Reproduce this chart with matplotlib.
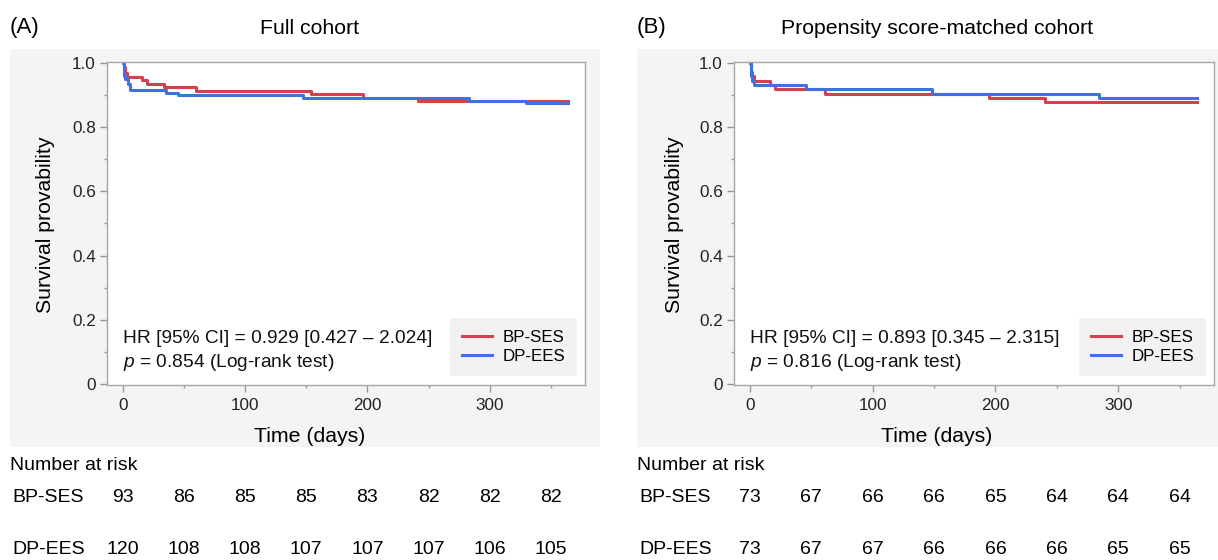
import matplotlib
matplotlib.use("Agg")
import matplotlib.pyplot as plt
from matplotlib.patches import Rectangle
from matplotlib.ticker import MultipleLocator
import matplotlib.transforms as mtransforms

plt.rcParams['font.family'] = ['Liberation Sans', 'DejaVu Sans']
plt.rcParams['mathtext.fontset'] = 'custom'
plt.rcParams['mathtext.rm'] = 'Liberation Sans'
plt.rcParams['mathtext.it'] = 'Liberation Sans:italic'

# ---- data ----
groups = ['BP-SES', 'DP-EES']
colors = ['#d6404e', '#3f72e0']

# Full cohort, step curves (time in days, survival probability)
full_bp_time = [0, 1, 2, 3, 16, 20, 34, 60, 154, 196, 241, 364]
full_bp_surv = [1.0, 0.989, 0.968, 0.957, 0.946, 0.935, 0.925, 0.914, 0.903, 0.892, 0.882, 0.882]
full_dp_time = [0, 0.5, 1, 2, 4, 6, 35, 45, 147, 283, 330, 364]
full_dp_surv = [1.0, 0.975, 0.958, 0.950, 0.933, 0.917, 0.908, 0.900, 0.892, 0.883, 0.875, 0.875]

# Propensity score-matched cohort
psm_bp_time = [0, 1, 2, 3, 16, 20, 61, 195, 240, 364]
psm_bp_surv = [1.0, 0.973, 0.959, 0.945, 0.932, 0.918, 0.904, 0.890, 0.877, 0.877]
psm_dp_time = [0, 0.5, 1, 2, 3, 46, 148, 284, 364]
psm_dp_surv = [1.0, 0.973, 0.959, 0.945, 0.932, 0.918, 0.904, 0.890, 0.890]

# number at risk
risk_times = [0, 50, 100, 150, 200, 250, 300, 350]
full_bp_risk = [93, 86, 85, 85, 83, 82, 82, 82]
full_dp_risk = [120, 108, 108, 107, 107, 107, 106, 105]
psm_bp_risk = [73, 67, 66, 66, 65, 64, 64, 64]
psm_dp_risk = [73, 67, 67, 66, 66, 66, 65, 65]

panel_letters = ['(A)', '(B)']
panel_titles = ['Full cohort', 'Propensity score-matched cohort']
hr_texts = ['HR [95% CI] = 0.929 [0.427 \u2013 2.024]', 'HR [95% CI] = 0.893 [0.345 \u2013 2.315]']
p_texts = [r'$\it{p}$ = 0.854 (Log-rank test)', r'$\it{p}$ = 0.816 (Log-rank test)']
ytick_vals = [0, 0.2, 0.4, 0.6, 0.8, 1.0]
ytick_labels = ['0', '0.2', '0.4', '0.6', '0.8', '1.0']
xtick_vals = [0, 100, 200, 300]

W, H = 1218, 560
fig = plt.figure(figsize=(W / 100, H / 100), dpi=100)

def fx(px):
    return px / W

def fy(py):
    return 1 - py / H

# pixel layout of the two panels
panel_left = [10, 637]
panel_right = [600, 1218]
axes_left = [107, 734]
axes_right = [585, 1214]
center_x = [310, 937]
ylabel_x = [46, 674]

curves = [
    [(full_bp_time, full_bp_surv), (full_dp_time, full_dp_surv)],
    [(psm_bp_time, psm_bp_surv), (psm_dp_time, psm_dp_surv)],
]
risks = [[full_bp_risk, full_dp_risk], [psm_bp_risk, psm_dp_risk]]

for i in range(2):
    # light gray panel background (behind the axes)
    bg = Rectangle((fx(panel_left[i]), fy(447)), fx(panel_right[i] - panel_left[i]), (447 - 49) / H,
                   transform=fig.transFigure, facecolor='#f4f4f4', edgecolor='none', zorder=-5)
    fig.add_artist(bg)

    ax = fig.add_axes([fx(axes_left[i]), fy(384.5), fx(axes_right[i] - axes_left[i]), (384.5 - 61.7) / H])
    ax.set_zorder(2)
    ax.set_facecolor('white')
    for (t, s), c, g in zip(curves[i], colors, groups):
        ax.step(t, s, where='post', color=c, lw=2.2, label=g)

    ax.set_xlim(-13, 378)
    ax.set_ylim(-0.002, 1.004)
    ax.set_xticks(xtick_vals)
    ax.xaxis.set_minor_locator(MultipleLocator(50))
    ax.set_yticks(ytick_vals)
    ax.set_yticklabels(ytick_labels)
    ax.yaxis.set_minor_locator(MultipleLocator(0.1))
    ax.tick_params(which='major', length=5, width=1, color='#999999', labelsize=12.3, labelcolor='#222222', pad=3)
    ax.tick_params(which='minor', length=2.5, width=1, color='#999999')
    ax.tick_params(axis='x', which='major', pad=5)
    for sp in ax.spines.values():
        sp.set_color('#a6a6a6')
        sp.set_linewidth(1)

    ax.text(0, 0.14, hr_texts[i], fontsize=13.8, va='center', ha='left', color='#111111')
    ax.text(0, 0.066, p_texts[i], fontsize=13.8, va='center', ha='left', color='#111111')

    leg = ax.legend(loc='lower right', bbox_to_anchor=(0.983, 0.026), fontsize=12.2, frameon=True,
                    fancybox=False, facecolor='#f2f2f2', edgecolor='none', framealpha=1,
                    handlelength=1.8, labelspacing=0.25, borderpad=0.7, borderaxespad=0, handletextpad=0.6)

    # panel letters, titles, axis labels
    fig.text(fx(panel_left[i]), fy(28), panel_letters[i], fontsize=16, va='center', ha='left')
    fig.text(fx(center_x[i]), fy(28), panel_titles[i], fontsize=15.3, va='center', ha='center')
    fig.text(fx(ylabel_x[i]), fy(225), 'Survival provability', fontsize=15.3, rotation=90, va='center', ha='center')
    fig.text(fx(center_x[i]), fy(437), 'Time (days)', fontsize=15.3, va='center', ha='center')

    # number at risk table
    tr = mtransforms.blended_transform_factory(ax.transData, fig.transFigure)
    fig.text(fx(panel_left[i]), fy(466), 'Number at risk', fontsize=14, va='center', ha='left')
    for g, row_y, counts in zip(groups, [497, 550], risks[i]):
        fig.text(fx(panel_left[i] + 2), fy(row_y), g, fontsize=14, va='center', ha='left')
        for t, n in zip(risk_times, counts):
            ax.text(t, fy(row_y), str(n), transform=tr, fontsize=14, va='center', ha='center', clip_on=False)

fig.savefig('out.png', dpi=100, facecolor='white')
